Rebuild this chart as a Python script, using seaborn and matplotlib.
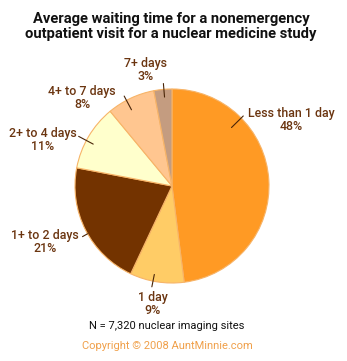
import numpy as np
import matplotlib
matplotlib.use("Agg")
import matplotlib.pyplot as plt
import seaborn as sns

# ---- data ----
categories = ["Less than 1 day", "1 day", "1+ to 2 days", "2+ to 4 days", "4+ to 7 days", "7+ days"]
values = [48, 9, 21, 11, 8, 3]
pct_labels = ["48%", "9%", "21%", "11%", "8%", "3%"]
colors = ["#FF9A24", "#FFCC66", "#733300", "#FFFFCC", "#FFC690", "#C49C80"]

title = "Average waiting time for a nonemergency\noutpatient visit for a nuclear medicine study"
note = "N = 7,320 nuclear imaging sites"
credit = "Copyright \u00a9 2008 AuntMinnie.com"

# ---- layout (pixel space, y measured from top) ----
W, H = 347, 361
cx, cy, R = 172, 186, 97
label_pos = [(291, 114), (153, 297), (45, 236), (43, 133), (82, 91), (146, 64)]
# leader lines: (angle deg, inner r fraction, outer r fraction)
leaders = [(44.5, 0.86, 1.03), (258.7, 0.93, 1.06), (209.5, 1.0, 1.06),
           (152.0, 0.92, 1.09), (118.0, 0.89, 1.05), (94.8, 0.92, 1.06)]

sns.set_theme(style="white")
plt.rcParams['font.family'] = ['Roboto', 'DejaVu Sans']

fig = plt.figure(figsize=(W / 100, H / 100), dpi=100)
ax = fig.add_axes([0, 0, 1, 1])

ax.pie(values, colors=colors, startangle=90, counterclock=False,
       center=(cx, H - cy), radius=R,
       wedgeprops=dict(edgecolor="#F7B468", linewidth=0.8))
ax.set_xlim(0, W)
ax.set_ylim(0, H)
ax.set_aspect('equal')
ax.axis('off')

txt_color = "#6B3510"
for cat, pct, (lx, ly) in zip(categories, pct_labels, label_pos):
    ax.text(lx, H - ly, cat, ha="center", va="center", fontsize=8.9,
            color=txt_color, fontweight="medium")
    ax.text(lx, H - ly - 13, pct, ha="center", va="center", fontsize=8.9,
            color=txt_color, fontweight="medium")

for ang, r0, r1 in leaders:
    a = np.deg2rad(ang)
    xs = [cx + R * r0 * np.cos(a), cx + R * r1 * np.cos(a)]
    ys = [H - cy + R * r0 * np.sin(a), H - cy + R * r1 * np.sin(a)]
    ax.plot(xs, ys, color="#4A2508", lw=0.8)

ax.text(171, H - 26.5, title, ha="center", va="center", fontsize=10.6,
        fontweight="bold", color="#111111", linespacing=1.05)
ax.text(167, H - 326, note, ha="center", va="center", fontsize=8.0, color="#111111")
ax.text(167, H - 346, credit, ha="center", va="center", fontsize=8.0, color="#F0A04A")

fig.savefig("out.png", dpi=100)
